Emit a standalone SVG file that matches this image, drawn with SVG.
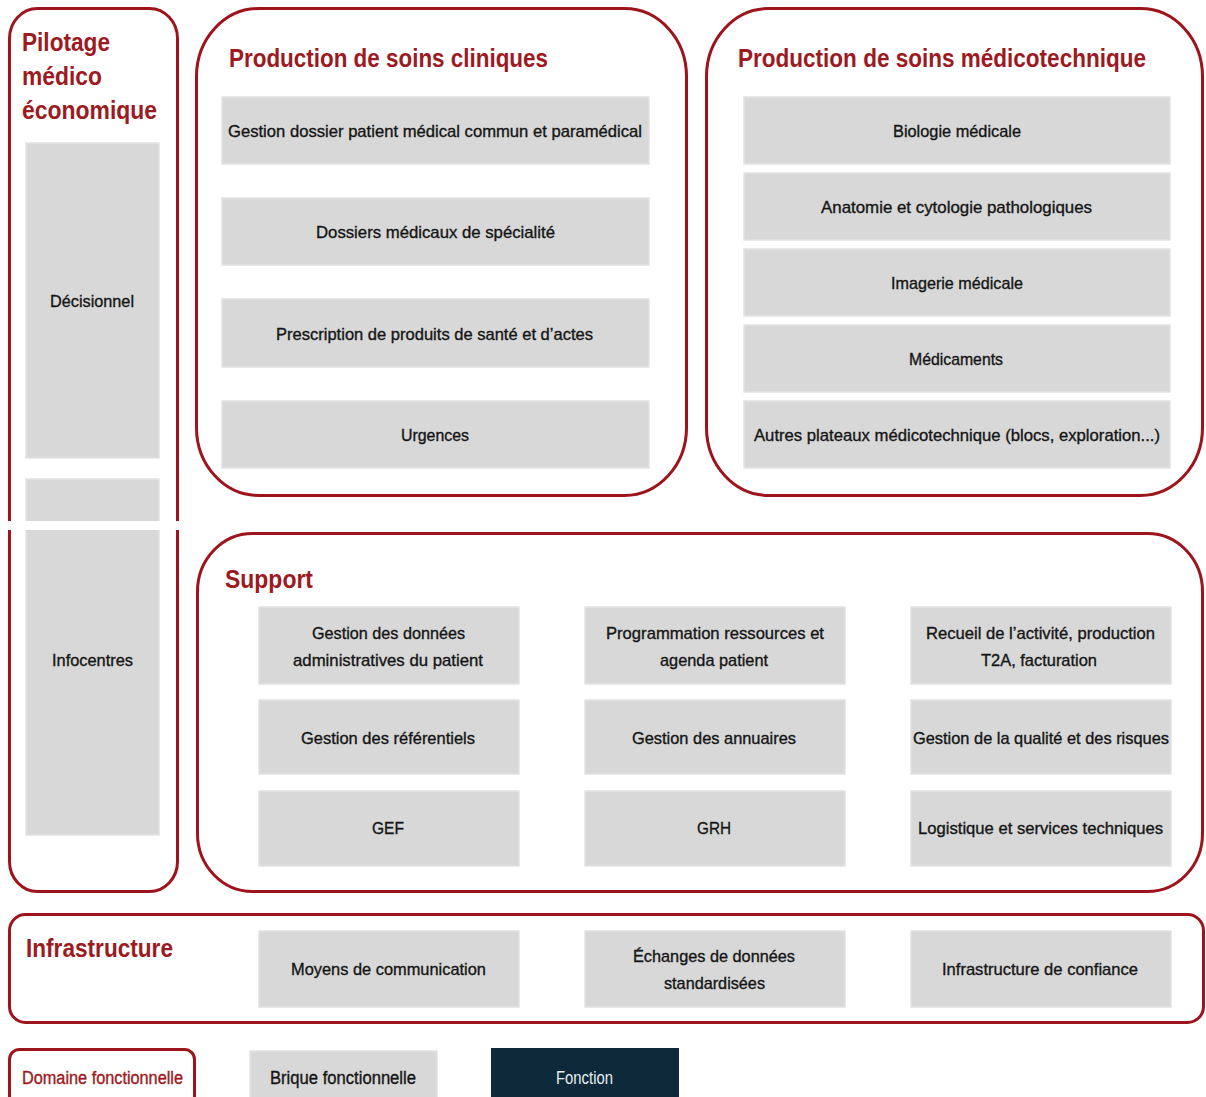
<svg xmlns="http://www.w3.org/2000/svg" width="1206" height="1097" viewBox="0 0 1206 1097">
<style>
.dom{fill:#ffffff;stroke:#9e141c;stroke-width:3}
.brick{fill:#d8d8d8;stroke:#e2e2e2;stroke-width:1.5}
.t{font-family:"Liberation Sans",Arial,sans-serif;font-size:17px;fill:#151515;stroke:#151515;stroke-width:0.35;text-anchor:middle}
.h{font-family:"Liberation Sans",Arial,sans-serif;font-size:25px;font-weight:bold;fill:#9c1a21}
.leg{font-family:"Liberation Sans",Arial,sans-serif;font-size:18px;stroke-width:0.35;text-anchor:middle}
</style>
<rect width="1206" height="1097" fill="#ffffff"/>

<g id="pilotage">
<rect class="dom" x="9.5" y="8.5" width="168" height="883" rx="28" ry="30"/>
<text class="h" x="22" y="51" textLength="88" lengthAdjust="spacingAndGlyphs">Pilotage</text>
<text class="h" x="22" y="85" textLength="80" lengthAdjust="spacingAndGlyphs">médico</text>
<text class="h" x="22" y="119" textLength="135" lengthAdjust="spacingAndGlyphs">économique</text>
<g id="decisionnel">
<rect class="brick" x="26" y="143" width="133" height="315"/>
<text class="t" x="92" y="307" textLength="84" lengthAdjust="spacingAndGlyphs">Décisionnel</text>
</g>
<g id="infocentres">
<rect class="brick" x="26" y="479" width="133" height="356"/>
<text class="t" x="92.5" y="666" textLength="81" lengthAdjust="spacingAndGlyphs">Infocentres</text>
</g>
<rect x="0" y="521" width="192" height="9" fill="#ffffff"/>
</g>

<g id="cliniques">
<rect class="dom" x="196.5" y="8.5" width="490" height="487" rx="62" ry="68"/>
<text class="h" x="229" y="67" textLength="319" lengthAdjust="spacingAndGlyphs">Production de soins cliniques</text>
<g id="c1"><rect class="brick" x="222" y="97" width="427" height="67"/>
<text class="t" x="435" y="137" textLength="414" lengthAdjust="spacingAndGlyphs">Gestion dossier patient médical  commun et paramédical</text></g>
<g id="c2"><rect class="brick" x="222" y="198" width="427" height="67"/>
<text class="t" x="435.5" y="238" textLength="239" lengthAdjust="spacingAndGlyphs">Dossiers médicaux  de spécialité</text></g>
<g id="c3"><rect class="brick" x="222" y="299" width="427" height="68"/>
<text class="t" x="434.5" y="340" textLength="317" lengthAdjust="spacingAndGlyphs">Prescription de produits de santé et d’actes</text></g>
<g id="c4"><rect class="brick" x="222" y="401" width="427" height="67"/>
<text class="t" x="435" y="441" textLength="68" lengthAdjust="spacingAndGlyphs">Urgences</text></g>
</g>

<g id="medicotechnique">
<rect class="dom" x="706.5" y="8.5" width="496" height="487" rx="62" ry="68"/>
<text class="h" x="738" y="67" textLength="408" lengthAdjust="spacingAndGlyphs">Production de soins médicotechnique</text>
<g id="m1"><rect class="brick" x="744" y="97" width="426" height="67"/>
<text class="t" x="957" y="137" textLength="128" lengthAdjust="spacingAndGlyphs">Biologie médicale</text></g>
<g id="m2"><rect class="brick" x="744" y="173" width="426" height="67"/>
<text class="t" x="956.5" y="213" textLength="271" lengthAdjust="spacingAndGlyphs">Anatomie  et cytologie pathologiques</text></g>
<g id="m3"><rect class="brick" x="744" y="249" width="426" height="67"/>
<text class="t" x="957" y="289" textLength="132" lengthAdjust="spacingAndGlyphs">Imagerie médicale</text></g>
<g id="m4"><rect class="brick" x="744" y="325" width="426" height="67"/>
<text class="t" x="956" y="365" textLength="94" lengthAdjust="spacingAndGlyphs">Médicaments</text></g>
<g id="m5"><rect class="brick" x="744" y="401" width="426" height="67"/>
<text class="t" x="957" y="441" textLength="406" lengthAdjust="spacingAndGlyphs">Autres plateaux médicotechnique (blocs, exploration...)</text></g>
</g>

<g id="support">
<rect class="dom" x="197.5" y="533.5" width="1005" height="358" rx="55" ry="58"/>
<text class="h" x="225" y="588" textLength="88" lengthAdjust="spacingAndGlyphs">Support</text>
<g id="s1"><rect class="brick" x="259" y="607" width="260" height="77"/>
<text class="t" x="388.5" y="639" textLength="153" lengthAdjust="spacingAndGlyphs">Gestion des données</text>
<text class="t" x="388" y="666" textLength="190" lengthAdjust="spacingAndGlyphs">administratives du patient</text></g>
<g id="s2"><rect class="brick" x="585" y="607" width="260" height="77"/>
<text class="t" x="715" y="639" textLength="218" lengthAdjust="spacingAndGlyphs">Programmation ressources et</text>
<text class="t" x="714" y="666" textLength="108" lengthAdjust="spacingAndGlyphs">agenda patient</text></g>
<g id="s3"><rect class="brick" x="911" y="607" width="260" height="77"/>
<text class="t" x="1040.5" y="639" textLength="229" lengthAdjust="spacingAndGlyphs">Recueil de l’activité, production</text>
<text class="t" x="1039" y="666" textLength="116" lengthAdjust="spacingAndGlyphs">T2A, facturation</text></g>
<g id="s4"><rect class="brick" x="259" y="700" width="260" height="74"/>
<text class="t" x="388" y="744" textLength="174" lengthAdjust="spacingAndGlyphs">Gestion des référentiels</text></g>
<g id="s5"><rect class="brick" x="585" y="700" width="260" height="74"/>
<text class="t" x="714" y="744" textLength="164" lengthAdjust="spacingAndGlyphs">Gestion des annuaires</text></g>
<g id="s6"><rect class="brick" x="911" y="700" width="260" height="74"/>
<text class="t" x="1041" y="744" textLength="256" lengthAdjust="spacingAndGlyphs">Gestion de la qualité et des risques</text></g>
<g id="s7"><rect class="brick" x="259" y="791" width="260" height="75"/>
<text class="t" x="388" y="834" textLength="32" lengthAdjust="spacingAndGlyphs">GEF</text></g>
<g id="s8"><rect class="brick" x="585" y="791" width="260" height="75"/>
<text class="t" x="714" y="834" textLength="34" lengthAdjust="spacingAndGlyphs">GRH</text></g>
<g id="s9"><rect class="brick" x="911" y="791" width="260" height="75"/>
<text class="t" x="1040.5" y="834" textLength="245" lengthAdjust="spacingAndGlyphs">Logistique et services techniques</text></g>
</g>

<g id="infrastructure">
<rect class="dom" x="9.5" y="914.5" width="1194" height="108" rx="16" ry="16"/>
<text class="h" x="26" y="957" textLength="147" lengthAdjust="spacingAndGlyphs">Infrastructure</text>
<g id="i1"><rect class="brick" x="259" y="931" width="260" height="76"/>
<text class="t" x="388.5" y="975" textLength="195" lengthAdjust="spacingAndGlyphs">Moyens de communication</text></g>
<g id="i2"><rect class="brick" x="585" y="931" width="260" height="76"/>
<text class="t" x="714" y="962" textLength="162" lengthAdjust="spacingAndGlyphs">Échanges de données</text>
<text class="t" x="714.5" y="989" textLength="101" lengthAdjust="spacingAndGlyphs">standardisées</text></g>
<g id="i3"><rect class="brick" x="911" y="931" width="260" height="76"/>
<text class="t" x="1040" y="975" textLength="196" lengthAdjust="spacingAndGlyphs">Infrastructure de confiance</text></g>
</g>

<g id="connectors"></g>

<g id="legend">
<g id="leg-domaine">
<rect class="dom" x="9.5" y="1049.5" width="185" height="60" rx="10" ry="10"/>
<text class="leg" x="102.5" y="1084" fill="#9c1a21" stroke="#9c1a21" textLength="161" lengthAdjust="spacingAndGlyphs">Domaine fonctionnelle</text>
</g>
<g id="leg-brique">
<rect class="brick" x="250" y="1051" width="187" height="60"/>
<text class="leg" x="343" y="1084" fill="#151515" stroke="#151515" textLength="146" lengthAdjust="spacingAndGlyphs">Brique fonctionnelle</text>
</g>
<g id="leg-fonction">
<rect x="491" y="1048" width="188" height="60" fill="#0e2a3a"/>
<text class="leg" x="584.5" y="1084" fill="#e4eff0" textLength="57" lengthAdjust="spacingAndGlyphs">Fonction</text>
</g>
</g>
</svg>
